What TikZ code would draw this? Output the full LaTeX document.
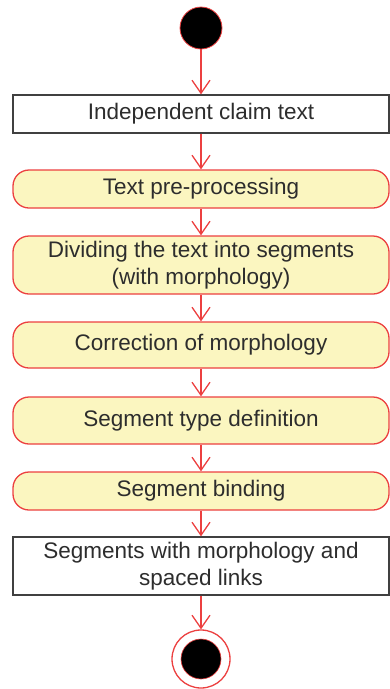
\documentclass[tikz,border=0pt]{standalone}
\usepackage{fontspec}
\setmainfont{Liberation Sans}
\usetikzlibrary{positioning, arrows.meta, shapes.geometric}

\definecolor{umlred}{RGB}{236,64,64}
\definecolor{umlyellow}{RGB}{251,246,192}
\definecolor{umltext}{RGB}{45,45,45}

\begin{document}
\begin{tikzpicture}[
    x=1pt, y=1pt,
    every node/.style={align=center, font=\fontsize{22.5}{27}\selectfont, text=umltext},
    artifact/.style={rectangle, draw=black!75, fill=white, line width=1.3pt, minimum width=376pt, inner sep=0pt},
    activity/.style={rectangle, rounded corners=16pt, draw=umlred, fill=umlyellow, line width=1.3pt, minimum width=376pt, inner sep=0pt},
    initial/.style={circle, draw=umlred, fill=black, line width=0.8pt, minimum size=42pt, inner sep=0pt},
    final/.style={circle, draw=umlred, fill=white, line width=1.3pt, minimum size=58pt, inner sep=0pt},
    flow/.style={-{Straight Barb[length=13pt, width=18pt]}, umlred, line width=1.3pt}
]
\useasboundingbox (0,0) rectangle (390,-689);

% --- Nodos
\node[initial] (inicio) at (201,-28) {};
\node[artifact, minimum height=38pt] (claim) at (201,-114) {Independent claim text};
\node[activity, minimum height=38pt] (preproc) at (201,-189) {Text pre-processing};
\node[activity, minimum height=58pt] (dividing) at (201,-265) {Dividing the text into segments\\(with morphology)};
\node[activity, minimum height=46pt] (correction) at (201,-345) {Correction of morphology};
\node[activity, minimum height=47pt] (typedef) at (201,-420.5) {Segment type definition};
\node[activity, minimum height=38pt] (binding) at (201,-491) {Segment binding};
\node[artifact, minimum height=58pt] (segments) at (201,-566) {Segments with morphology and\\spaced links};
\node[final] (fin) at (201,-659) {};
\node[circle, fill=black, draw=umlred, line width=0.6pt, minimum size=40pt, inner sep=0pt] (finpunto) at (fin) {};

% --- Flechas
\draw[flow] (inicio) -- (claim);
\draw[flow] (claim) -- (preproc);
\draw[flow] (preproc) -- (dividing);
\draw[flow] (dividing) -- (correction);
\draw[flow] (correction) -- (typedef);
\draw[flow] (typedef) -- (binding);
\draw[flow] (binding) -- (segments);
\draw[flow] (segments) -- (fin);

\end{tikzpicture}
\end{document}
